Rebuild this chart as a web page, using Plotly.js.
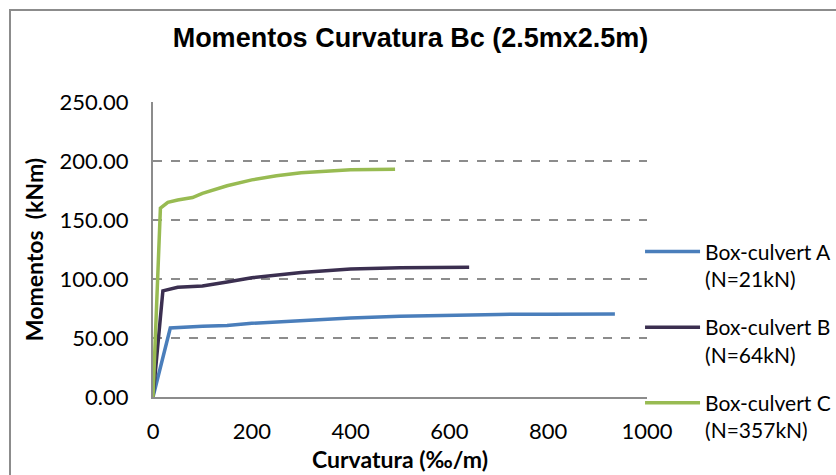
<!DOCTYPE html>
<html>
<head>
<meta charset="utf-8">
<script src="https://cdn.plot.ly/plotly-3.0.1.min.js"></script>
<style>
html,body{margin:0;padding:0;background:#fff;}
#frame{position:absolute;left:9px;top:9px;width:830px;height:470px;border-top:2px solid #8c8c8c;border-left:2px solid #8c8c8c;pointer-events:none;z-index:10;}
#chart{width:836px;height:475px;}
</style>
</head>
<body>
<div id="chart"></div>
<div id="frame"></div>
<script>
const seriesNames = ["Box-culvert A<br>(N=21kN)", "Box-culvert B<br>(N=64kN)", "Box-culvert C<br>(N=357kN)"];
const curvA = [0, 35, 100, 150, 200, 300, 400, 500, 600, 700, 800, 935];
const momA  = [0, 58.5, 60, 60.5, 62.5, 65, 67, 68.5, 69.5, 70, 70.2, 70.3];
const curvB = [0, 20, 50, 100, 150, 200, 300, 400, 500, 640];
const momB  = [0, 90, 93, 94, 97.5, 101, 105.5, 108.5, 109.5, 110];
const curvC = [0, 15, 30, 50, 80, 100, 150, 200, 250, 300, 400, 490];
const momC  = [0, 160, 165, 167, 169, 172.5, 179, 184, 187.5, 190, 192.5, 193];
const colors = ["#4a7ebb", "#3b2f50", "#98bb52"];

const xs = [curvA, curvB, curvC];
const ys = [momA, momB, momC];
const traces = xs.map((x, i) => ({
  x: x, y: ys[i], type: "scatter", mode: "lines", name: seriesNames[i],
  legendgroup: "g" + i,
  line: {color: colors[i], width: 3.5}
}));

const layout = {
  width: 836, height: 475,
  margin: {l: 153, r: 189, t: 102, b: 78, autoexpand: false},
  paper_bgcolor: "#fff", plot_bgcolor: "#fff",
  title: {text: "Momentos Curvatura Bc (2.5mx2.5m)", x: 0.491, xanchor: "center", y: 0.922, yanchor: "middle",
          font: {family: "Liberation Sans, Arial", size: 27, color: "#000", weight: "bold"}},
  font: {family: "Lato, Carlito, sans-serif", size: 22, color: "#000"},
  xaxis: {range: [0, 1000], tickvals: [0, 200, 400, 600, 800, 1000], showgrid: false, zeroline: false,
          showline: true, linecolor: "#8c8c8c", linewidth: 2, ticks: "", ticklen: 0,
          tickfont: {size: 22}, fixedrange: true, ticklabelstandoff: 14,
          title: {text: "Curvatura (‰/m)", standoff: 8, font: {size: 23, weight: "bold"}}},
  yaxis: {range: [0, 250], tickvals: [0, 50, 100, 150, 200, 250], tickformat: ".2f",
          showgrid: true, gridcolor: "#8c8c8c", griddash: "dash", gridwidth: 1.3,
          zeroline: false, showline: true, linecolor: "#8c8c8c", linewidth: 2, ticks: "",
          tickfont: {size: 22}, ticklabelstandoff: 18,
          title: {text: "Momentos  (kNm)", standoff: 10, font: {size: 23, weight: "bold"}}},
  legend: {xref: "container", x: 0.7656, xanchor: "left", yref: "paper", y: 0.19, yanchor: "middle", font: {size: 21},
           tracegroupgap: 18, itemwidth: 55, valign: "top", bgcolor: "rgba(0,0,0,0)"},
  showlegend: true
};
Plotly.newPlot("chart", traces, layout, {displayModeBar: false, staticPlot: true});
</script>
</body>
</html>
